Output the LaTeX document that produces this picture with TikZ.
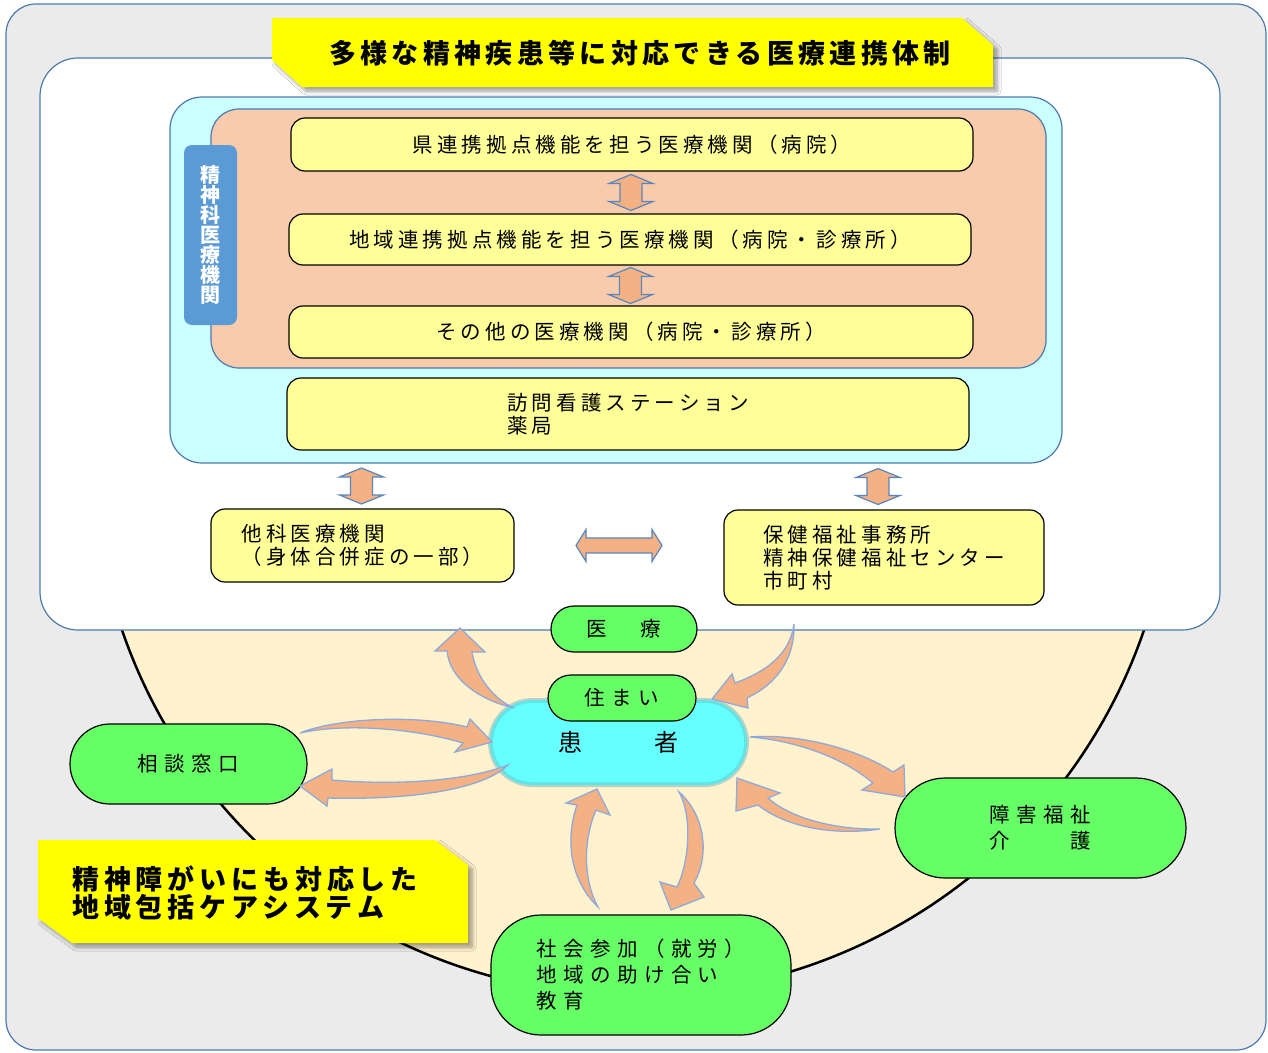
\documentclass[tikz,border=0pt]{standalone}
\usepackage{fontspec}
\setmainfont{Noto Sans CJK JP}
\usetikzlibrary{shapes.misc,calc,shadows.blur}
\newcommand{\lsp}[1]{\addfontfeature{LetterSpace=#1}}
\definecolor{graybg}{HTML}{EBEBEB}
\definecolor{frameblue}{HTML}{4A7AAE}
\definecolor{cyanc}{HTML}{CCFFFF}
\definecolor{salmonc}{HTML}{F8CBAD}
\definecolor{labelblue}{HTML}{5B9BD5}
\definecolor{yboxc}{HTML}{FFFF99}
\definecolor{banneryellow}{HTML}{FFFF00}
\definecolor{creamc}{HTML}{FFF2CC}
\definecolor{greenc}{HTML}{66FF66}
\definecolor{patientc}{HTML}{66FFFF}
\definecolor{patientmid}{HTML}{62E4E4}
\definecolor{patientout}{HTML}{B7D3C9}
\definecolor{arrowfill}{HTML}{F4B183}
\definecolor{arrowedge}{HTML}{8EA9DB}
\definecolor{darrowedge}{HTML}{5A86BE}
\tikzset{
  container/.style={draw=frameblue,line width=1.2pt,inner sep=0pt},
  ybox/.style={draw=black,line width=1.2pt,fill=yboxc,rounded corners=14pt,inner sep=0pt,align=left,font=\fontsize{20.5}{23}\selectfont\lsp{20}},
  gnode/.style={rounded rectangle,draw=black,line width=1.2pt,fill=greenc,inner sep=0pt,align=left,font=\fontsize{20.5}{26}\selectfont\lsp{31}},
  carrow/.style={fill=arrowfill,draw=arrowedge,line width=1.3pt,line join=miter},
  darrow/.style={fill=arrowfill,draw=darrowedge,line width=1.2pt,line join=miter},
  banner/.style={fill=banneryellow,blur shadow={shadow xshift=4pt,shadow yshift=-4pt,shadow blur steps=6,shadow blur radius=4pt}},
  vdarrow/.pic={\path[darrow] (0,-18) -- (22,-9) -- (11,-9) -- (11,9) -- (22,9) -- (0,18) -- (-22,9) -- (-11,9) -- (-11,-9) -- (-22,-9) -- cycle;},
  hdarrow/.pic={\path[darrow] (-43,0) -- (-33,-16) -- (-33,-7.5) -- (33,-7.5) -- (33,-16) -- (43,0) -- (33,16) -- (33,7.5) -- (-33,7.5) -- (-33,16) -- cycle;}
}
\begin{document}
\begin{tikzpicture}[x=1pt,y=-1pt]
\useasboundingbox (0,0) rectangle (1268,1052);
% background frame
\node[container,fill=graybg,rounded corners=30pt,minimum width=1260pt,minimum height=1046pt] (bg) at (636,527) {};
% community circle
\begin{scope}
\clip (0,400) rectangle (1268,1052);
\draw[line width=2.5pt,fill=creamc] (633,455) circle[radius=540pt];
\end{scope}
% medical cooperation frame
\node[container,fill=white,rounded corners=38pt,minimum width=1180pt,minimum height=572pt] (wbox) at (630,344) {};
\node[container,fill=cyanc,rounded corners=32pt,minimum width=892pt,minimum height=366pt] (cyan) at (616,280) {};
\node[container,fill=salmonc,rounded corners=28pt,minimum width=835pt,minimum height=259pt] (salmon) at (628.5,238.5) {};
\node[fill=labelblue,rounded corners=8pt,minimum width=53pt,minimum height=180pt,inner sep=0pt,text=white,align=center,font=\fontsize{20}{20}\selectfont\bfseries] (lbl) at (210.5,235) {精\\神\\科\\医\\療\\機\\関};
% title banner
\path[banner] (272,18) -- (962,18) -- (993,45) -- (993,87) -- (302,87) -- (272,60) -- cycle;
\node[font=\fontsize{27}{30}\selectfont\bfseries\lsp{16}] (title) at (640,53) {多様な精神疾患等に対応できる医療連携体制};
% yellow boxes
\node[ybox,minimum width=682pt,minimum height=53pt] (k1) at (632,144.5) {県連携拠点機能を担う医療機関（病院）};
\node[ybox,minimum width=682pt,minimum height=51pt] (k2) at (630,239.5) {地域連携拠点機能を担う医療機関（病院・診療所）};
\node[ybox,minimum width=684pt,minimum height=52pt] (k3) at (631,332) {その他の医療機関（病院・診療所）};
\node[ybox,minimum width=682pt,minimum height=72pt] (k4) at (628,414) {訪問看護ステーション\\薬局};
\node[ybox,minimum width=303pt,minimum height=73pt] (tako) at (362.5,545.5) {他科医療機関\\（身体合併症の一部）};
\node[ybox,minimum width=320pt,minimum height=95pt] (hoken) at (884,557.5) {保健福祉事務所\\精神保健福祉センター\\市町村};
% straight double arrows
\pic at ($(k1.south)!0.5!(k2.north)$) {vdarrow};
\pic at ($(k2.south)!0.5!(k3.north)$) {vdarrow};
\pic at ($(tako.north |- cyan.south)!0.5!(tako.north)+(-1,0)$) {vdarrow};
\pic at ($(hoken.north |- cyan.south)!0.5!(hoken.north)+(-6,0)$) {vdarrow};
\pic at ($(tako.east)!0.5!(tako.east -| hoken.west)$) {hdarrow};
% patient
\node[rounded rectangle,fill=patientout,minimum width=261pt,minimum height=89pt,inner sep=0pt] (patout) at (618.5,742.5) {};
\node[rounded rectangle,fill=patientmid,minimum width=257pt,minimum height=85pt,inner sep=0pt] (patmid) at (618.5,742.5) {};
\node[rounded rectangle,fill=patientc,minimum width=251pt,minimum height=79pt,inner sep=0pt,font=\fontsize{24}{26}\selectfont] (patient) at (618.5,742.5) {患　　　者};
% green nodes
\node[gnode,minimum width=146pt,minimum height=46pt] (iryo) at (624,629) {医　療};
\node[gnode,minimum width=148pt,minimum height=46pt] (sumai) at (622,698) {住まい};
\node[gnode,minimum width=237pt,minimum height=80pt] (soudan) at (188.5,764) {相談窓口};
\node[gnode,minimum width=291pt,minimum height=100pt] (shogai) at (1040.5,828) {障害福祉\\介　　護};
\node[draw=black,line width=1.2pt,fill=greenc,rounded corners=50pt,inner sep=0pt,align=left,font=\fontsize{20.5}{26}\selectfont\lsp{31},minimum width=300pt,minimum height=120pt] (shakai) at (641,975) {社会参加（就労）\\地域の助け合い\\教育};
% curved block arrows
\path[carrow] (514,708) .. controls (480,700) and (450,680) .. (447,651) -- (435,651) -- (460,628) -- (485,652) -- (472,652) .. controls (476,678) and (495,700) .. cycle;
\path[carrow] (794,624) .. controls (790,655) and (765,672) .. (735,683) -- (732,674) -- (712,699) -- (748,708) -- (747,698) .. controls (775,685) and (795,660) .. cycle;
\path[carrow] (300,733) .. controls (340,717) and (420,715) .. (467,727) -- (470,719) -- (492,742) -- (455,752) -- (463,743) .. controls (420,730) and (350,722) .. cycle;
\path[carrow] (508,765) .. controls (470,780) and (400,786) .. (332,780) -- (332,769) -- (300,786) -- (327,806) -- (328,798) .. controls (400,800) and (480,792) .. cycle;
\path[carrow] (750,737) .. controls (800,733) and (860,750) .. (893,772) -- (904,765) -- (905,797) -- (862,790) -- (873,783) .. controls (840,755) and (790,740) .. cycle;
\path[carrow] (880,829) .. controls (835,830) and (790,818) .. (768,798) -- (780,793) -- (737,778) -- (736,811) -- (758,805) .. controls (790,830) and (840,835) .. cycle;
\path[carrow] (598,907) .. controls (570,880) and (565,840) .. (577,805) -- (566,803) -- (597,789) -- (610,815) -- (596,810) .. controls (583,840) and (583,880) .. cycle;
\path[carrow] (679,792) .. controls (705,815) and (710,855) .. (694,883) -- (704,897) -- (671,910) -- (660,882) -- (677,887) .. controls (690,860) and (692,815) .. cycle;
% bottom banner
\path[banner] (38,840) -- (435,840) -- (468,865) -- (468,943) -- (72,943) -- (38,918) -- cycle;
\node[anchor=west,align=left,inner sep=0pt,font=\fontsize{27}{28}\selectfont\bfseries\lsp{18}] (system) at (72,893) {精神障がいにも対応した\\地域包括ケアシステム};
\end{tikzpicture}
\end{document}
